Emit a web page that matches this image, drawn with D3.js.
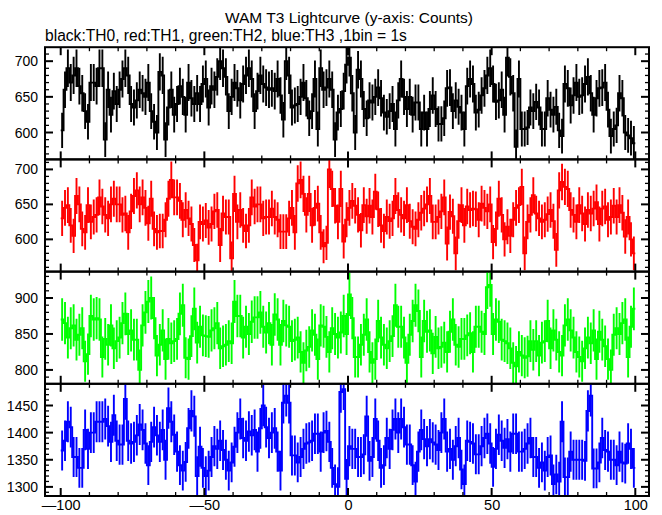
<!DOCTYPE html>
<html><head><meta charset="utf-8">
<script src="https://cdn.jsdelivr.net/npm/d3@7"></script>
<style>body{margin:0;background:#fff} svg{display:block}</style>
</head><body>
<svg id="c" width="662" height="515"></svg>
<script>
// ---------- data ----------
const title = "WAM T3 Lightcurve (y-axis: Counts)";
const subtitle = "black:TH0, red:TH1, green:TH2, blue:TH3 ,1bin = 1s";
const xTicks = [-100, -50, 0, 50, 100];
const firstBinStart = -100;   // seconds; 1 bin = 1 s
const th0 = [
603,660,690,670,680,690,665,655,630,615,
670,670,665,690,690,590,660,625,658,640,
660,675,690,680,640,635,645,660,655,650,
670,630,615,600,685,680,590,635,660,625,
640,665,650,625,670,648,640,655,640,668,
675,635,665,660,678,700,690,678,630,650,
670,662,645,668,680,690,675,630,658,680,
668,663,660,662,658,675,652,618,700,680,
635,638,640,650,670,648,620,630,675,605,
690,660,663,675,660,590,628,633,658,695,
705,655,600,688,675,633,620,645,642,650,
663,648,628,622,630,640,605,645,675,650,
633,650,625,642,642,605,628,605,633,652,
633,612,612,620,662,663,630,645,636,628,
605,665,675,668,628,632,652,662,680,690,
668,643,645,660,625,705,678,655,580,675,
605,605,607,635,630,643,635,605,605,648,
632,625,636,603,595,668,662,638,652,670,
650,652,668,678,655,625,648,662,663,670,
632,595,605,610,655,648,600,596,592,585];
const th1 = [
630,645,649,620,605,662,650,615,610,649,
625,632,635,660,647,635,630,650,658,650,
650,635,637,610,640,662,670,650,660,645,
623,658,615,610,612,612,628,658,685,660,
660,655,628,642,630,622,592,570,625,622,
627,617,622,640,642,592,637,632,632,573,
665,625,642,620,612,620,660,647,650,650,
630,632,632,644,632,628,611,611,611,630,
645,610,680,685,665,635,665,620,645,651,
610,590,595,700,672,648,625,672,597,628,
645,655,648,635,613,649,633,648,632,668,
643,620,612,632,626,630,662,642,635,630,
649,626,618,615,628,638,644,650,662,625,
625,632,640,660,594,639,633,580,626,649,
620,647,642,644,643,628,651,645,640,650,
596,615,658,635,600,618,605,628,645,649,
675,580,625,635,663,637,630,625,628,636,
642,626,585,670,682,675,672,642,635,625,
649,637,622,642,637,644,653,622,644,647,
628,632,648,632,649,638,604,632,600,580];
const th2 = [
870,865,845,858,862,842,849,858,812,822,
875,870,872,870,818,843,835,862,830,840,
845,865,878,850,855,842,842,800,862,880,
895,900,872,820,835,855,815,843,837,840,
843,878,890,817,815,847,885,838,860,848,
847,846,855,858,865,830,833,835,840,837,
895,875,875,845,860,850,867,873,873,880,
860,852,865,835,877,870,835,868,862,860,
840,842,845,825,810,827,832,855,849,815,
862,860,846,825,858,850,845,852,875,850,
905,872,818,818,835,849,870,825,810,815,
868,845,835,830,840,847,890,860,860,845,
810,849,868,890,882,818,868,853,855,823,
846,830,832,838,825,853,870,835,832,843,
843,848,851,825,860,860,853,850,915,918,
850,870,867,842,840,837,830,810,805,825,
820,817,819,840,828,840,820,838,840,868,
830,855,842,825,820,862,870,855,845,825,
818,812,830,845,837,855,815,853,842,833,
815,800,849,858,850,865,870,818,860,885];
const th3 = [
1367,1385,1420,1410,1355,1355,1335,1335,1405,1370,
1400,1400,1420,1420,1420,1425,1412,1383,1432,1385,
1378,1378,1462,1385,1380,1383,1395,1415,1405,1380,
1340,1383,1410,1395,1383,1405,1350,1445,1420,1396,
1365,1340,1330,1346,1408,1440,1430,1320,1374,1335,
1320,1330,1355,1375,1370,1385,1368,1350,1330,1345,
1374,1400,1425,1390,1385,1402,1395,1405,1365,1408,
1450,1410,1390,1400,1408,1365,1330,1455,1468,1455,
1358,1358,1345,1355,1370,1380,1382,1385,1398,1398,
1365,1400,1403,1383,1335,1305,1300,1475,1480,1315,
1375,1370,1370,1355,1355,1360,1430,1348,1355,1425,
1385,1335,1340,1390,1370,1405,1425,1400,1425,1410,
1378,1378,1340,1310,1365,1405,1388,1375,1388,1382,
1378,1368,1400,1425,1365,1370,1350,1375,1390,1332,
1305,1385,1383,1380,1360,1360,1375,1390,1398,1380,
1337,1370,1396,1385,1372,1388,1365,1398,1398,1365,
1365,1370,1380,1390,1355,1355,1335,1345,1330,1355,
1358,1305,1323,1310,1420,1318,1318,1365,1350,1350,
1350,1350,1348,1440,1468,1334,1334,1345,1390,1368,
1365,1350,1350,1340,1365,1345,1343,1380,1370,1335];
const seriesValues = [th0, th1, th2, th3];
const seriesColors = ["#000000", "#ff0000", "#00ff00", "#0000ff"];
const yDomains = [[562.3, 719.6], [553.9, 714.3], [780.7, 936.7], [1283.2, 1490]];
const yLabelTicks = [[600, 650, 700], [600, 650, 700], [800, 850, 900], [1300, 1350, 1400, 1450]];

// ---------- layout ----------
const svg = d3.select("#c");
const L = 45, R = 649, T = 47.2, B = 496;
const nP = 4, ph = (B - T) / nP;
const x = d3.scaleLinear().domain([-100, 100]).range([60.7, 635.3]);
const font = "Liberation Sans, Arial, Helvetica, sans-serif";

svg.append("text").attr("x", 349).attr("y", 23).attr("text-anchor", "middle")
  .attr("font-family", font).attr("font-size", 15.5).text(title);
svg.append("text").attr("x", 45).attr("y", 41).attr("text-anchor", "start")
  .attr("font-family", font).attr("font-size", 15.6).text(subtitle);

const defs = svg.append("defs");

seriesValues.forEach((vals, p) => {
  const top = T + p * ph, bot = top + ph;
  const y = d3.scaleLinear().domain(yDomains[p]).range([bot, top]);
  const g = svg.append("g");
  const cid = "clip" + p;
  defs.append("clipPath").attr("id", cid).append("rect")
    .attr("x", L).attr("y", top).attr("width", R - L).attr("height", ph);
  const dg = g.append("g").attr("clip-path", `url(#${cid})`);

  const bins = vals.map((v, i) => ({x0: firstBinStart + i, xc: firstBinStart + i + 0.5, v}));
  // error bars
  dg.selectAll("line.err").data(bins).join("line")
    .attr("x1", d => x(d.xc)).attr("x2", d => x(d.xc))
    .attr("y1", d => y(d.v - Math.sqrt(d.v))).attr("y2", d => y(d.v + Math.sqrt(d.v)))
    .attr("stroke", seriesColors[p]).attr("stroke-width", 1.9);
  // step histogram
  const pts = bins.map(d => [d.x0, d.v]);
  pts.push([firstBinStart + vals.length, vals[vals.length - 1]]);
  const line = d3.line().x(d => x(d[0])).y(d => y(d[1])).curve(d3.curveStepAfter);
  dg.append("path").attr("d", line(pts)).attr("fill", "none")
    .attr("stroke", seriesColors[p]).attr("stroke-width", 1.9);

  // y ticks (left and right)
  const yd = yDomains[p];
  const yt = d3.range(Math.ceil(yd[0] / 10) * 10, yd[1], 10);
  yt.forEach(t => {
    const major = t % 50 === 0;
    const len = major ? 8 : 4;
    const yy = y(t);
    g.append("line").attr("x1", L).attr("x2", L + len).attr("y1", yy).attr("y2", yy)
      .attr("stroke", "#000").attr("stroke-width", major ? 2 : 1.3);
    g.append("line").attr("x1", R).attr("x2", R - len).attr("y1", yy).attr("y2", yy)
      .attr("stroke", "#000").attr("stroke-width", major ? 2 : 1.3);
  });
  yLabelTicks[p].forEach(t => {
    g.append("text").attr("x", 38).attr("y", y(t) + 5).attr("text-anchor", "end")
      .attr("font-family", font).attr("font-size", 14).text(t);
  });
  // x ticks top and bottom
  d3.range(-100, 101, 10).forEach(t => {
    const major = t % 50 === 0;
    const len = major ? 8 : 4;
    const xx = x(t);
    g.append("line").attr("x1", xx).attr("x2", xx).attr("y1", bot).attr("y2", bot - len)
      .attr("stroke", "#000").attr("stroke-width", major ? 2 : 1.3);
    g.append("line").attr("x1", xx).attr("x2", xx).attr("y1", top).attr("y2", top + len)
      .attr("stroke", "#000").attr("stroke-width", major ? 2 : 1.3);
  });
  g.append("rect").attr("x", L).attr("y", top).attr("width", R - L).attr("height", ph)
    .attr("fill", "none").attr("stroke", "#000").attr("stroke-width", 2);
});

// x axis labels
const xAxis = d3.axisBottom(x).tickValues(xTicks).tickSize(0).tickPadding(3)
  .tickFormat(d => d < 0 ? "\u2014" + Math.abs(d) : String(d));
const ax = svg.append("g").attr("transform", `translate(0,${B + 1})`).call(xAxis);
ax.select(".domain").remove();
ax.selectAll("text").attr("font-family", font).attr("font-size", 14.5).attr("fill", "#000");
</script>
</body></html>
